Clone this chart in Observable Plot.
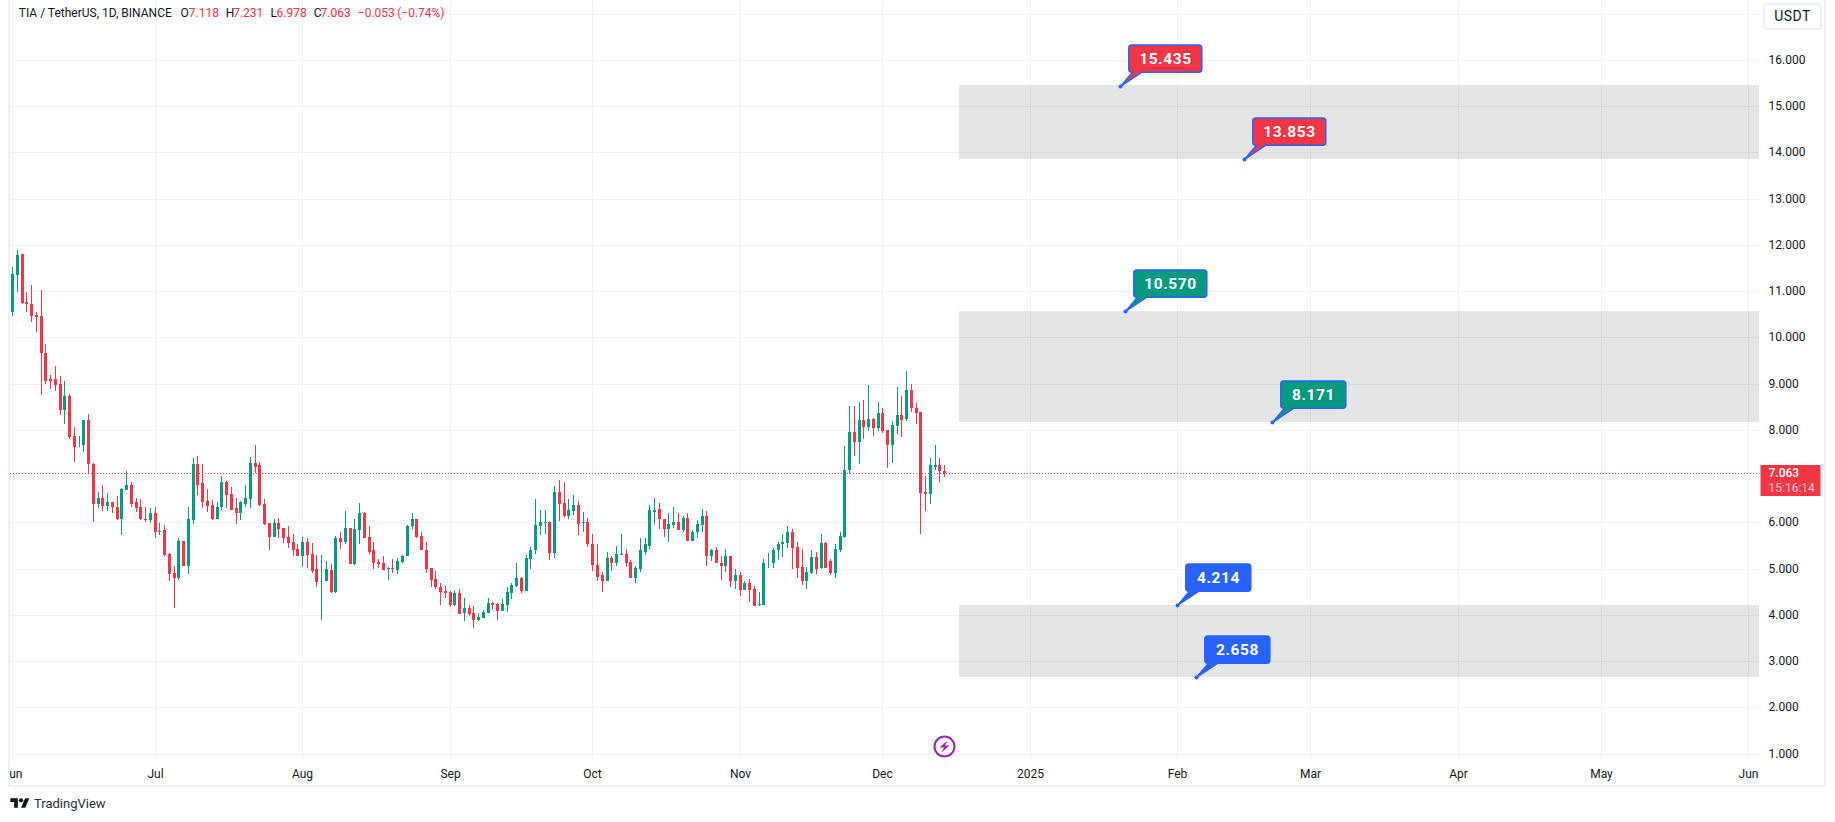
<!DOCTYPE html>
<html>
<head>
<meta charset="utf-8">
<script src="https://cdn.jsdelivr.net/npm/d3@7"></script>
<script src="https://cdn.jsdelivr.net/npm/@observablehq/plot@0.6"></script>
<style>
  html, body { margin: 0; padding: 0; background: #fff; height: 822px; overflow: hidden; }
  #chart { position: relative; width: 1835px; height: 822px; overflow: hidden; font-family: Roboto, sans-serif; color: #131722; }
  #chart svg { display: block; position: absolute; left: 0; top: 0; }
  .border { position: absolute; left: 8px; top: -3px; width: 1814px; height: 786px; border: 2px solid #eff0f4; pointer-events: none; }
  .usdt { position: absolute; left: 1763px; top: 3px; width: 55px; height: 23px; border: 2px solid #eff0f5; border-radius: 4px; text-align: center; line-height: 23px; font-size: 14px; letter-spacing: .4px; background: #fff; }
  .brand { position: absolute; left: 10px; top: 796px; display: flex; align-items: center; font-size: 13px; color: #2a2e39; height: 15px; }
  .brand svg { position: static !important; margin-right: 4px; }
  .callout text { letter-spacing: .6px; }
</style>
</head>
<body>
<div id="chart"></div>
<script>
const opens = [
10.54,11.34,11.79,10.77,10.73,10.49,10.45,9.67,9.09,9.09,
8.98,8.42,8.72,7.87,7.66,7.66,8.22,7.27,6.40,6.53,
6.36,6.43,6.34,6.08,6.69,6.81,6.43,6.32,6.08,6.04,
6.21,5.80,5.84,5.32,4.91,4.80,5.60,5.06,6.04,7.27,
6.84,6.45,6.38,6.08,6.32,6.86,6.62,6.30,6.19,6.40,
6.51,7.29,7.23,6.40,5.99,5.69,5.99,5.88,5.69,5.58,
5.43,5.26,5.58,5.32,4.98,4.72,4.72,4.97,4.50,5.67,
5.58,5.88,5.10,5.84,6.21,5.69,5.39,5.15,5.13,5.00,
5.02,4.97,5.15,5.26,5.91,6.06,5.71,5.41,5.02,4.78,
4.61,4.52,4.50,4.22,4.48,4.04,4.15,4.04,3.89,3.94,
4.04,4.26,4.24,4.09,4.22,4.48,4.63,4.80,4.52,5.21,
5.39,5.93,5.99,6.01,5.34,6.66,6.42,6.14,6.25,6.38,
5.99,6.01,5.54,5.08,4.85,4.74,5.23,5.13,5.30,5.32,
5.15,4.80,5.00,5.36,5.49,6.23,6.29,6.08,5.86,5.95,
6.01,5.84,6.10,5.60,5.78,5.95,6.14,5.28,5.41,5.13,
5.06,5.28,4.74,4.87,4.54,4.69,4.56,4.22,4.22,5.11,
5.11,5.39,5.52,5.56,5.80,5.47,5.04,4.72,4.91,5.24,
5.02,5.56,5.17,4.91,5.41,5.69,7.12,7.96,7.74,8.22,
8.05,8.24,8.03,8.37,8.00,7.66,8.09,8.33,8.24,8.85,
8.48,8.39,6.66,6.62,7.20,7.23,7.118];
const highs = [
11.52,11.88,11.79,10.97,11.12,10.54,11.03,9.86,9.19,9.37,
9.17,9.06,8.78,8.07,7.87,8.22,8.35,7.29,6.66,6.81,
6.64,6.43,6.56,6.74,7.10,6.88,6.53,6.51,6.32,6.30,
6.34,5.99,5.95,5.34,5.06,5.65,5.60,6.32,7.38,7.44,
7.25,6.73,6.49,6.43,6.99,6.90,6.77,6.53,6.47,6.81,
7.42,7.66,7.31,6.51,5.99,6.06,6.10,5.88,5.93,5.75,
5.54,5.69,5.65,5.56,5.30,5.30,5.17,5.10,5.71,5.80,
6.25,5.88,6.06,6.42,6.23,5.91,5.58,5.21,5.28,5.04,
5.21,5.23,5.30,5.95,6.21,6.06,5.80,5.58,5.02,4.95,
4.69,4.63,4.52,4.54,4.56,4.37,4.22,4.20,4.04,4.11,
4.37,4.28,4.26,4.35,4.61,4.69,5.13,4.82,5.30,5.47,
6.51,6.27,6.27,6.03,6.79,6.92,6.86,6.51,6.60,6.45,
6.23,6.10,5.75,5.54,4.93,5.36,5.28,5.49,5.75,5.43,
5.19,5.06,5.65,5.65,6.38,6.53,6.42,6.08,6.21,6.34,
6.19,6.14,6.19,5.84,6.04,6.29,6.25,5.43,5.47,5.26,
5.43,5.28,4.98,4.93,4.74,4.78,4.63,4.50,5.21,5.34,
5.45,5.58,5.75,5.91,5.86,5.58,5.43,5.04,5.41,5.36,
5.75,5.58,5.21,5.54,5.80,7.64,8.52,8.52,8.61,8.65,
8.96,8.26,8.59,8.46,8.00,8.18,8.93,8.72,9.28,8.98,
8.57,8.39,7.01,7.38,7.66,7.38,7.231];
const lows = [
10.45,10.97,10.73,10.54,10.32,10.12,8.76,9.00,8.89,8.83,
8.31,8.13,7.79,7.31,7.62,7.51,7.05,6.01,6.30,6.25,
6.25,6.21,6.04,5.73,6.69,6.32,6.23,6.04,6.01,5.99,
5.65,5.73,5.28,4.74,4.15,4.76,5.06,4.89,5.97,6.58,
6.30,6.23,6.04,6.08,6.27,6.30,6.27,5.97,6.04,6.32,
6.30,7.07,6.36,5.95,5.41,5.69,5.67,5.56,5.45,5.26,
5.26,5.04,5.02,4.91,4.59,3.89,4.72,4.46,4.48,5.43,
5.52,5.10,5.08,5.54,5.67,5.32,5.00,5.02,4.97,4.76,
4.91,4.89,5.13,5.26,5.86,5.65,5.39,4.91,4.61,4.56,
4.22,4.37,4.17,4.20,4.02,3.87,3.98,3.72,3.87,3.92,
4.04,4.11,3.89,4.09,4.07,4.33,4.61,4.48,4.52,5.00,
5.32,5.73,5.75,5.19,5.23,6.03,6.12,6.08,6.16,5.73,
5.78,5.47,4.95,4.74,4.50,4.74,4.95,5.06,5.30,5.04,
4.80,4.69,4.93,5.30,5.43,5.97,5.86,5.69,5.58,5.88,
5.84,5.78,5.60,5.60,5.67,5.80,5.06,5.17,5.11,4.76,
4.93,4.61,4.56,4.41,4.54,4.28,4.18,4.18,4.22,5.02,
5.02,5.19,5.24,5.45,5.00,4.80,4.65,4.56,4.89,4.89,
4.98,5.02,4.85,4.80,5.36,5.67,7.05,7.44,7.25,7.79,
7.98,7.87,7.98,7.92,7.18,7.29,7.90,7.85,8.18,8.39,
8.13,5.75,6.25,6.40,7.14,6.88,6.978];
const closes = [
11.36,11.77,10.75,10.71,10.47,10.43,9.65,9.06,9.06,8.96,
8.42,8.72,7.85,7.62,7.68,8.22,7.25,6.40,6.53,6.36,
6.43,6.32,6.08,6.73,6.81,6.40,6.30,6.06,6.04,6.21,
5.80,5.82,5.30,4.89,4.80,5.60,5.06,6.06,7.27,6.81,
6.43,6.36,6.08,6.34,6.86,6.60,6.27,6.19,6.43,6.53,
7.29,7.20,6.38,5.97,5.69,5.99,5.86,5.67,5.56,5.41,
5.26,5.58,5.30,4.95,4.70,4.74,4.98,4.50,5.67,5.58,
5.88,5.10,5.86,6.21,5.67,5.36,5.13,5.10,4.97,5.02,
5.00,5.17,5.28,5.93,6.06,5.69,5.39,5.00,4.76,4.59,
4.50,4.48,4.22,4.48,4.02,4.15,4.02,3.89,3.96,4.07,
4.26,4.22,4.09,4.24,4.50,4.65,4.80,4.52,5.23,5.41,
5.95,6.01,6.01,5.34,6.66,6.40,6.14,6.27,6.38,5.97,
6.01,5.52,5.08,4.82,4.74,5.23,5.13,5.32,5.32,5.13,
4.80,5.02,5.39,5.52,6.27,6.27,6.06,5.86,5.97,6.01,
5.84,6.10,5.60,5.80,5.97,6.14,5.28,5.41,5.11,5.06,
5.28,4.74,4.87,4.54,4.69,4.54,4.20,4.24,5.13,5.13,
5.41,5.54,5.58,5.80,5.45,5.02,4.72,4.93,5.24,5.00,
5.56,5.02,4.91,5.43,5.71,7.14,7.96,7.74,8.22,8.05,
8.24,8.03,8.37,7.98,7.66,8.11,8.33,8.22,8.85,8.46,
8.37,6.64,6.62,7.23,7.23,7.10,7.063];

const firstDay = new Date(Date.UTC(2024, 5, 1));
const monthLabels = ["Jun","Jul","Aug","Sep","Oct","Nov","Dec","2025","Feb","Mar","Apr","May","Jun"];
const monthDates = monthLabels.map((_, i) => new Date(Date.UTC(2024, 5 + i, 1)));
const gridPrices = d3.range(1, 18);
const priceTicks = [1,2,3,4,5,6,8,9,10,11,12,13,14,15,16];
const lastClose = 7.063;
const countdown = "15:16:14";

const zoneStart = new Date(Date.UTC(2024, 11, 17, 4));
const zoneEnd = new Date(Date.UTC(2025, 6, 1));
const zoneTops = [15.46, 10.570, 4.214];
const zoneBottoms = [13.853, 8.171, 2.658];

const calloutPrices = [15.435, 13.853, 10.570, 8.171, 4.214, 2.658];
const calloutDates = ["2025-01-20","2025-02-15","2025-01-21","2025-02-21","2025-02-01","2025-02-05"].map(s => new Date(s));
const calloutColors = ["#f23645","#f23645","#089981","#089981","#2962ff","#2962ff"];

const headerParts = [
  {text:"TIA / TetherUS, 1D, BINANCE", dx:8.3, fill:"#131722"},
  {text:"O", dx:170, fill:"#131722"}, {text:"7.118", dx:178.3, fill:"#f23645"},
  {text:"H", dx:215.3, fill:"#131722"}, {text:"7.231", dx:222.7, fill:"#f23645"},
  {text:"L", dx:260, fill:"#131722"}, {text:"6.978", dx:266, fill:"#f23645"},
  {text:"C", dx:303.3, fill:"#131722"}, {text:"7.063", dx:310, fill:"#f23645"},
  {text:"\u22120.053", dx:347.3, fill:"#f23645"}, {text:"(\u22120.74%)", dx:386.7, fill:"#f23645"}
];

const candles = opens.map((o, i) => ({
  date: d3.utcDay.offset(firstDay, i), open: o, high: highs[i], low: lows[i], close: closes[i]
}));
const up = candles.filter(d => d.close >= d.open);
const down = candles.filter(d => d.close < d.open);
const zones = zoneTops.map((t, i) => ({top: t, bottom: zoneBottoms[i]}));
const callouts = calloutPrices.map((p, i) => ({
  price: p, date: calloutDates[i], color: calloutColors[i], label: p.toFixed(3)
}));

const green = "#089981", red = "#f23645", grid = "#f0f1f4";

// callout body + tail drawn relative to its anchor point
function calloutSymbol(w) {
  return {draw(c) {
    const l = 8.3, r = l + w, t = -41.5, b = -14.2, k = 3;
    c.moveTo(l + k, t);
    c.lineTo(r - k, t); c.arcTo(r, t, r, t + k, k);
    c.lineTo(r, b - k); c.arcTo(r, b, r - k, b, k);
    c.lineTo(21, b); c.lineTo(0, 0); c.lineTo(12, b);
    c.lineTo(l + k, b); c.arcTo(l, b, l, b - k, k);
    c.lineTo(l, t + k); c.arcTo(l, t, l + k, t, k);
    c.closePath();
  }};
}
const tagSymbol = {draw(c) { c.rect(1, -8.5, 60, 31); }};
const boltSymbol = {draw(c) {
  c.moveTo(3, -6); c.lineTo(-5, 1); c.lineTo(-0.5, 1); c.lineTo(-3, 6);
  c.lineTo(5, -1); c.lineTo(0.5, -1); c.closePath();
}};

const wide = callouts.filter(d => d.label.length > 5);
const narrow = callouts.filter(d => d.label.length === 5);
const eventDay = [{date: new Date("2024-12-14"), price: 1.16}];

const svg = Plot.plot({
  width: 1835, height: 822,
  marginLeft: 10, marginRight: 76, marginTop: 0, marginBottom: 35,
  style: {fontFamily: "Roboto, sans-serif", fontSize: "12px", color: "#131722", background: "transparent"},
  x: {type: "utc", domain: [firstDay, new Date(Date.UTC(2025, 5, 1))], range: [12, 1748], round: true, axis: null},
  y: {type: "linear", domain: [1, 16], range: [753.5, 59.8], round: true, axis: null},
  marks: [
    Plot.ruleY(gridPrices, {stroke: grid, strokeWidth: 1}),
    Plot.ruleX(monthDates, {y1: 0.89, y2: 17.3, stroke: grid, strokeWidth: 1, clip: true}),
    Plot.rect(zones, {x1: () => zoneStart, x2: () => zoneEnd, y1: "bottom", y2: "top", fill: "#787b86", fillOpacity: 0.2, clip: true}),
    Plot.ruleX(up, {x: "date", y1: "low", y2: "high", stroke: green, strokeWidth: 1}),
    Plot.ruleX(down, {x: "date", y1: "low", y2: "high", stroke: red, strokeWidth: 1}),
    Plot.ruleX(up, {x: "date", y1: "open", y2: "close", stroke: green, strokeWidth: 3}),
    Plot.ruleX(down, {x: "date", y1: "open", y2: "close", stroke: red, strokeWidth: 3}),
    Plot.ruleY([lastClose], {stroke: red, strokeWidth: 1, strokeDasharray: "1 2"}),
    // callouts
    Plot.dot(wide, {x: "date", y: "price", symbol: calloutSymbol(73), fill: "color", stroke: "#2962ff", strokeWidth: 1.5}),
    Plot.dot(narrow, {x: "date", y: "price", symbol: calloutSymbol(65), fill: "color", stroke: "#2962ff", strokeWidth: 1.5}),
    Plot.dot(callouts, {x: "date", y: "price", r: 2, fill: "#2962ff", stroke: "none"}),
    Plot.text(wide, {x: "date", y: "price", text: "label", dx: 45, dy: -27.9, fill: "#fff", fontWeight: 700, fontSize: 15.5, className: "callout"}),
    Plot.text(narrow, {x: "date", y: "price", text: "label", dx: 41, dy: -27.9, fill: "#fff", fontWeight: 700, fontSize: 15.5, className: "callout"}),
    // event marker
    Plot.dot(eventDay, {x: "date", y: "price", r: 10, fill: "#fff", stroke: "#9c27b0", strokeWidth: 2}),
    Plot.dot(eventDay, {x: "date", y: "price", symbol: boltSymbol, fill: "#9c27b0", stroke: "none"}),
    // price axis
    Plot.axisY(priceTicks, {anchor: "right", tickSize: 0, tickPadding: 9, tickFormat: d => d.toFixed(3), label: null, fill: "#131722", fontSize: 12}),
    Plot.dot([lastClose], {y: d => d, frameAnchor: "right", symbol: tagSymbol, fill: red, stroke: "none"}),
    Plot.text([lastClose], {y: d => d, text: d => d.toFixed(3), frameAnchor: "right", dx: 9, textAnchor: "start", fill: "#fff", fontSize: 12, fontWeight: 500}),
    Plot.text([countdown], {y: () => lastClose, text: d => d, frameAnchor: "right", dx: 9, dy: 14.5, textAnchor: "start", fill: "#fff", fillOpacity: 0.75, fontSize: 12}),
    // time axis
    Plot.text(monthLabels, {x: (d, i) => monthDates[i], text: d => d, frameAnchor: "bottom", dy: -10, fill: "#131722", fontSize: 12,
      fontWeight: d => d === "2025" ? 700 : 400, clip: true}),
    // legend line
    ...headerParts.map(p => Plot.text([p.text], {text: d => d, frameAnchor: "top-left", dx: p.dx, dy: 7.5, textAnchor: "start", fill: p.fill, fontSize: 12}))
  ]
});

const root = document.getElementById("chart");
root.appendChild(svg);
root.insertAdjacentHTML("beforeend", `
  <div class="border"></div>
  <div class="usdt">USDT</div>
  <div class="brand"><svg width="20" height="15" viewBox="0 0 36 28" fill="#131722"><path d="M14 22H7V11H0V4h14v18zM28 22h-8l7.5-18h8L28 22z"/><circle cx="20" cy="8" r="4"/></svg>TradingView</div>
`);
</script>
</body>
</html>
